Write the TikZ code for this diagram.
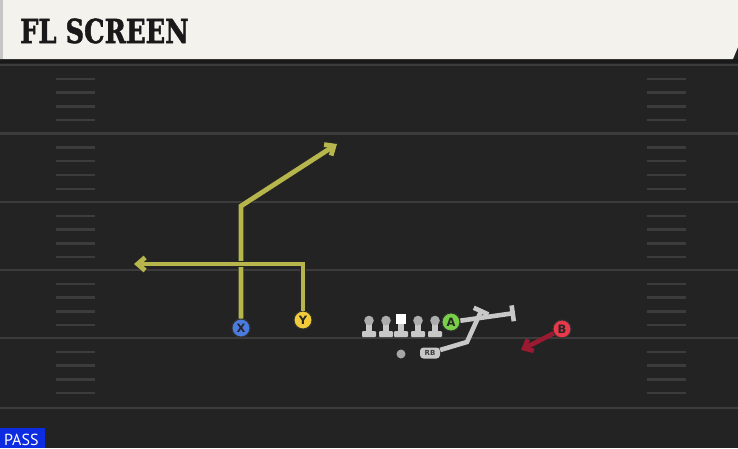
\documentclass[tikz,border=0pt]{standalone}
\usepackage{fontspec}
\setmainfont{DejaVu Serif}
\setsansfont{PT Sans}
\newfontfamily\dotfont{DejaVu Sans}
\newfontfamily\titlefont{DejaVu Serif}[BoldFeatures={FakeBold=1.6}]
\usetikzlibrary{arrows.meta}

\definecolor{fieldbg}{HTML}{232323}
\definecolor{yardline}{HTML}{3C3C3C}
\definecolor{hashline}{HTML}{3C3C3C}
\definecolor{headbg}{HTML}{F4F2EC}
\definecolor{routeyel}{HTML}{B6B64C}
\definecolor{routered}{HTML}{9A1A32}
\definecolor{blockgray}{HTML}{C8C8C8}
\definecolor{xblue}{HTML}{4A7BE0}
\definecolor{yyel}{HTML}{F2CB3A}
\definecolor{agreen}{HTML}{78D048}
\definecolor{bred}{HTML}{E8384A}
\definecolor{passblue}{HTML}{0D2BE0}

\begin{document}
\begin{tikzpicture}[x=1pt,y=-1pt,
  player/.style={circle,minimum size=18pt,inner sep=0pt,draw=black!80,line width=1pt,
    font=\dotfont\bfseries\fontsize{11.5}{11.5}\selectfont,text=black!85},
  route/.style={line width=4.8pt,line join=miter,draw=routeyel,
    preaction={draw=black!85,line width=6.2pt},
    -{Straight Barb[length=7.5pt,width=13pt]}},
  block/.style={line width=4.6pt,line join=miter,draw=blockgray,
    -{Bar[width=16pt]}},
  redroute/.style={line width=4.6pt,draw=routered,
    -{Straight Barb[length=7.5pt,width=13pt]}},
  lineman/.style={fill=blockgray},
]
\useasboundingbox (0,0) rectangle (738,448);
\fill[fieldbg] (0,0) rectangle (738,448);

\foreach \y in {65,133.5,202,270,338,408}
\draw[yardline,line width=2.4pt] (0,\y) -- (738,\y);

\foreach \y in {65,133.5,202,270,338}
\foreach \k in {1,2,3,4}
{
\draw[hashline,line width=2.4pt] (56,\y+\k*13.8) -- (95,\y+\k*13.8);
\draw[hashline,line width=2.4pt] (647,\y+\k*13.8) -- (686,\y+\k*13.8);
}

\fill[black!90] (0,59) rectangle (738,63);
\fill[headbg] (0,0) -- (738,0) -- (738,47) -- (733,59) -- (0,59) -- cycle;
\fill[gray!45] (0,0) rectangle (3,59);
\node[anchor=base west,inner sep=0pt,text=black!90,font=\titlefont\bfseries\fontsize{33}{33}\selectfont]
  (title) at (20,43) {\scalebox{0.78}[1]{FL SCREEN}};

\foreach \lx in {369,386,418,435}
{
\fill[lineman] (\lx-3,322) rectangle (\lx+3,333);
\fill[lineman,rounded corners=1pt] (\lx-7,331) rectangle (\lx+7,337);
\fill[gray!65] (\lx,320.5) circle (4.8);
}
\fill[lineman] (398,322) rectangle (404,333);
\fill[lineman,rounded corners=1pt] (394,331) rectangle (408,337);
\fill[white] (396,313.5) rectangle (406,323.5);

\node[player,fill=xblue] (X) at (241,328) {X};
\node[player,fill=yyel] (Y) at (303,320) {Y};
\node[player,fill=agreen] (A) at (451,322) {A};
\node[player,fill=bred] (B) at (562,329) {B};
\node[circle,fill=gray!70,minimum size=9pt,inner sep=0pt] (QB) at (401,354) {};
\node[fill=blockgray,rounded corners=3.5pt,minimum width=20pt,minimum height=11pt,inner sep=0pt,
  text=black!75,font=\dotfont\bfseries\fontsize{7}{7}\selectfont] (RB) at (430,353) {RB};

\coordinate (xbreak) at (241,206);
\coordinate (xend) at (337,144);
\coordinate (ybreak) at (303,264);
\coordinate (yend) at (134,264);
\coordinate (ablock) at (515,313);
\coordinate (rbturn) at (467,342);
\coordinate (rbblock) at (482,309);
\coordinate (bend) at (521,350);

\draw[route] (X) -- (xbreak) -- (xend);
\draw[route] (Y) -- (ybreak) -- (yend);
\draw[block] (A) -- (ablock);
\draw[block] (RB) -- (rbturn) -- (rbblock);
\draw[redroute] (B) -- (bend);

\fill[passblue] (0,428) rectangle (45,448);
\node[anchor=base west,inner sep=0pt,text=white,font=\sffamily\fontsize{16}{16}\selectfont]
  (pass) at (4,445) {PASS};
\end{tikzpicture}
\end{document}
